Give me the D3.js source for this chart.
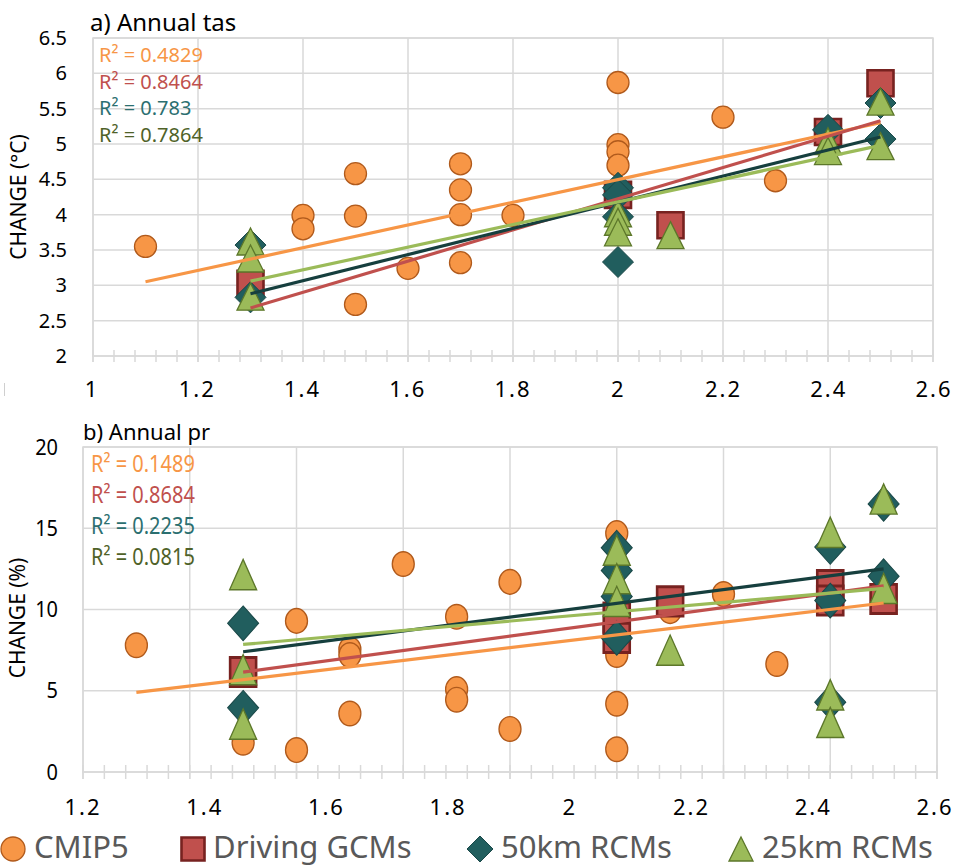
<!DOCTYPE html>
<html>
<head>
<meta charset="utf-8">
<title>Annual tas / pr change</title>
<script src="https://cdn.jsdelivr.net/npm/d3@7"></script>
<style>
  body { margin: 0; background: #fff; }
  svg text { font-family: "Noto Sans", sans-serif; fill: #000; }
  .grid line, .frame { stroke: #d9d9d9; stroke-width: 1.5; fill: none; }
  .ytick text { font-size: 20px; }
  .xtick { font-size: 22px; letter-spacing: 2px; }
  .r2 { font-family: "Liberation Sans Narrow", "Noto Sans", sans-serif !important; font-size: 20px; }
  .legend text { font-size: 31px; fill: #595959; }
</style>
</head>
<body>
<svg id="chart" width="960" height="866"></svg>
<script>
// ---- panel a) annual tas ----
const tasCmip5X = [1.1, 1.4, 1.4, 1.5, 1.5, 1.5, 1.6, 1.7, 1.7, 1.7, 1.7, 1.8, 2.0, 2.0, 2.0, 2.0, 2.2, 2.3];
const tasCmip5Y = [3.55, 3.99, 3.80, 4.58, 3.98, 2.73, 3.24, 4.72, 4.35, 4.0, 3.32, 3.99, 5.87, 4.99, 4.89, 4.70, 5.38, 4.48];
const tasGcmX = [1.3, 2.0, 2.1, 2.4, 2.5];
const tasGcmY = [3.02, 4.28, 3.85, 5.17, 5.86];
const tasRcm50X = [1.3, 1.3, 2.0, 2.0, 2.0, 2.0, 2.4, 2.5, 2.5];
const tasRcm50Y = [3.57, 2.83, 4.38, 4.28, 3.97, 3.33, 5.2, 5.58, 5.07];
const tasRcm25X = [1.3, 1.3, 1.3, 2.0, 2.0, 2.0, 2.1, 2.4, 2.4, 2.5, 2.5];
const tasRcm25Y = [3.62, 3.38, 2.84, 4.02, 3.9, 3.75, 3.71, 5.04, 4.9, 5.6, 4.97];
// trendline ends: [x0, y0, x1, y1]
const tasTrends = [[1.1, 3.05, 2.5, 5.30], [1.3, 2.68, 2.5, 5.33], [1.3, 2.88, 2.5, 5.10], [1.3, 3.06, 2.5, 4.98]];
const tasR2 = ["0.4829", "0.8464", "0.783", "0.7864"];
const tasYTicks = [2, 2.5, 3, 3.5, 4, 4.5, 5, 5.5, 6, 6.5];
const tasXTicks = [1, 1.2, 1.4, 1.6, 1.8, 2, 2.2, 2.4, 2.6];

// ---- panel b) annual pr ----
const prCmip5X = [1.1, 1.3, 1.4, 1.4, 1.5, 1.5, 1.5, 1.6, 1.7, 1.7, 1.7, 1.8, 1.8, 2.0, 2.0, 2.0, 2.0, 2.1, 2.2, 2.3];
const prCmip5Y = [7.8, 1.8, 9.3, 1.35, 7.55, 7.2, 3.6, 12.8, 9.55, 5.1, 4.45, 11.7, 2.65, 14.7, 7.2, 4.2, 1.4, 9.9, 10.95, 6.65];
const prGcmX = [1.3, 2.0, 2.0, 2.1, 2.4, 2.4, 2.5];
const prGcmY = [6.15, 9.5, 8.25, 10.5, 11.5, 10.55, 10.65];
const prRcm50X = [1.3, 1.3, 2.0, 2.0, 2.0, 2.0, 2.4, 2.4, 2.4, 2.5, 2.5];
const prRcm50Y = [9.15, 3.95, 13.8, 12.4, 10.8, 8.25, 13.85, 10.55, 4.3, 16.5, 12.05];
const prRcm25X = [1.3, 1.3, 1.3, 2.0, 2.0, 2.0, 2.1, 2.4, 2.4, 2.4, 2.5, 2.5];
const prRcm25Y = [12.15, 6.3, 2.95, 13.65, 11.9, 10.5, 7.5, 14.75, 4.75, 3.05, 16.8, 11.3];
const prTrends = [[1.1, 4.9, 2.5, 10.4], [1.3, 6.15, 2.5, 11.45], [1.3, 7.4, 2.5, 12.5], [1.3, 7.85, 2.5, 11.3]];
const prR2 = ["0.1489", "0.8684", "0.2235", "0.0815"];
const prYTicks = [0, 5, 10, 15, 20];
const prXGrid = [1, 1.2, 1.4, 1.6, 1.8, 2, 2.2, 2.4, 2.6];
const prXLabels = ["1.2", "1.4", "1.6", "1.8", "2", "2.2", "2.4", "2.6"];

const seriesNames = ["CMIP5", "Driving GCMs", "50km RCMs", "25km RCMs"];

const styles = [
    {shape: "circle",   size: 22, fill: "#f79646", stroke: "#b05a1c", sw: 1.3},
    {shape: "square",   size: 26, fill: "#c0504d", stroke: "#772220", sw: 2.6},
    {shape: "diamond",  size: 31, fill: "#215e5e", stroke: "#1a4848", sw: 1},
    {shape: "triangle", size: 27, fill: "#9bbb59", stroke: "#5c772a", sw: 1.3}
];
const trendColors = ["#f79646", "#c0504d", "#163f3e", "#9bbb59"];
const r2Colors = ["#f79646", "#c0504d", "#2b6f70", "#4f6228"];

function markerPath(shape, s) {
    var h = s / 2;
    if (shape == "circle") return d3.symbol(d3.symbolCircle, Math.PI * h * h)();
    if (shape == "square") return `M${-h},${-h}H${h}V${h}H${-h}Z`;
    if (shape == "diamond") return `M0,${-h}L${h},0L0,${h}L${-h},0Z`;
    return `M0,${-h}L${h},${h}L${-h},${h}Z`;
}

var svg = d3.select("#chart");

function panel(cfg) {
    var g = svg.append("g");
    var x = d3.scaleLinear().domain([1, 2.6]).range([cfg.left, cfg.right]);
    var y = d3.scaleLinear().domain(cfg.yDomain).range([cfg.bottom, cfg.top]);

    // gridlines
    g.append("g").attr("class", "grid")
        .selectAll("line").data(cfg.yTicks).enter().append("line")
        .attr("x1", cfg.left).attr("x2", cfg.right)
        .attr("y1", d => y(d)).attr("y2", d => y(d));
    g.append("g").attr("class", "grid")
        .selectAll("line").data(cfg.xGrid).enter().append("line")
        .attr("x1", d => x(d)).attr("x2", d => x(d))
        .attr("y1", cfg.top).attr("y2", cfg.bottom + cfg.tick);
    g.append("rect").attr("class", "frame")
        .attr("x", cfg.left).attr("y", cfg.top)
        .attr("width", cfg.right - cfg.left).attr("height", cfg.bottom - cfg.top);

    // minor ticks crossing the x axis
    g.append("g").attr("class", "grid")
        .selectAll("line").data(d3.range(0, 41)).enter().append("line")
        .attr("x1", i => x(1 + i * 0.04)).attr("x2", i => x(1 + i * 0.04))
        .attr("y1", cfg.bottom - cfg.tick).attr("y2", cfg.bottom + cfg.tick);

    // y axis labels
    g.append("g").attr("class", "ytick")
        .attr("transform", `translate(${cfg.yLabelX},0)`)
        .call(d3.axisLeft(y).tickValues(cfg.yTicks).tickSize(0).tickPadding(0).tickFormat(d3.format("~g")))
        .call(a => a.select(".domain").remove())
        .selectAll("text").attr("font-family", null)
        .attr("transform", cfg.stretch ? "scale(1,1.12)" : null)
        .attr("y", cfg.stretch ? 0 : null);

    // x axis labels
    var xl = d3.scalePoint().domain(cfg.xLabels).range(cfg.xLabelRange);
    g.append("g").selectAll("text").data(cfg.xLabels).enter().append("text")
        .attr("class", "xtick")
        .attr("x", d => xl(d)).attr("y", cfg.xLabelY)
        .attr("text-anchor", "middle")
        .text(d => d);

    // markers, series order: CMIP5, GCMs, 50km, 25km
    cfg.series.forEach(function(s, i) {
        var st = styles[i];
        var pts = s[0].map((v, j) => [v, s[1][j]]);
        g.append("g").selectAll("path").data(pts).enter().append("path")
            .attr("d", markerPath(st.shape, st.size))
            .attr("transform", d => `translate(${x(d[0])},${y(d[1])})` + (cfg.stretch ? " scale(1,1.12)" : ""))
            .attr("fill", st.fill)
            .attr("stroke", st.stroke)
            .attr("stroke-width", st.sw)
            .attr("stroke-linejoin", "miter");
    });

    // trendlines
    g.append("g").selectAll("line").data(cfg.trends).enter().append("line")
        .attr("x1", d => x(d[0])).attr("y1", d => y(d[1]))
        .attr("x2", d => x(d[2])).attr("y2", d => y(d[3]))
        .attr("stroke", (d, i) => trendColors[i])
        .attr("stroke-width", 3.2);

    // R squared labels
    g.append("g").selectAll("text").data(cfg.r2).enter().append("text")
        .attr("class", "r2")
        .attr("transform", (d, i) => `translate(${cfg.r2X},${cfg.r2Y + i * cfg.r2Step})` + (cfg.stretch ? " scale(1,1.15)" : ""))
        .style("fill", (d, i) => r2Colors[i])
        .text(d => "R² = " + d);

    // title
    g.append("text")
        .attr("x", cfg.titleX).attr("y", cfg.titleY)
        .style("font-size", cfg.titleSize + "px")
        .text(cfg.title);

    // y axis title
    g.append("text")
        .attr("transform", `translate(${cfg.yTitleX},${cfg.yTitleY}) rotate(-90)`)
        .attr("text-anchor", "middle")
        .attr("dy", "0.35em")
        .style("font-size", "21px")
        .text(cfg.yTitle);
}

panel({
    left: 93, right: 933, top: 38, bottom: 356, tick: 6,
    yDomain: [2, 6.5], yTicks: tasYTicks, xGrid: tasXTicks,
    yLabelX: 67, xLabels: tasXTicks.map(d3.format("~g")), xLabelRange: [92, 934], xLabelY: 397,
    series: [[tasCmip5X, tasCmip5Y], [tasGcmX, tasGcmY], [tasRcm50X, tasRcm50Y], [tasRcm25X, tasRcm25Y]],
    trends: tasTrends, r2: tasR2, r2X: 99, r2Y: 62, r2Step: 26.5,
    title: "a) Annual tas", titleX: 90, titleY: 31, titleSize: 24,
    yTitle: "CHANGE (°C)", yTitleX: 19, yTitleY: 197
});

panel({
    left: 83, right: 937, top: 447, bottom: 772, tick: 7, stretch: true,
    yDomain: [0, 20], yTicks: prYTicks, xGrid: prXGrid,
    yLabelX: 58, xLabels: prXLabels, xLabelRange: [83, 935], xLabelY: 815,
    series: [[prCmip5X, prCmip5Y], [prGcmX, prGcmY], [prRcm50X, prRcm50Y], [prRcm25X, prRcm25Y]],
    trends: prTrends, r2: prR2, r2X: 91, r2Y: 472, r2Step: 31,
    title: "b) Annual pr", titleX: 83, titleY: 440, titleSize: 22,
    yTitle: "CHANGE (%)", yTitleX: 18, yTitleY: 618
});

// stray mark left of the top x labels
svg.append("line").attr("x1", 4.5).attr("x2", 4.5).attr("y1", 383).attr("y2", 396)
    .attr("stroke", "#cfcfcf").attr("stroke-width", 1);

// legend
var lg = svg.append("g").attr("class", "legend");
var legX = d3.scaleOrdinal().domain(seriesNames).range([13, 193, 480, 741]);
seriesNames.forEach(function(name, i) {
    var st = styles[i];
    var sz = [24, 23, 26, 24][i];
    lg.append("path")
        .attr("d", markerPath(st.shape, sz))
        .attr("transform", `translate(${legX(name)},849)`)
        .attr("fill", st.fill).attr("stroke", st.stroke).attr("stroke-width", st.sw);
    lg.append("text")
        .attr("x", legX(name) + [21, 20, 21, 21][i]).attr("y", 858)
        .text(name);
});
</script>
</body>
</html>
